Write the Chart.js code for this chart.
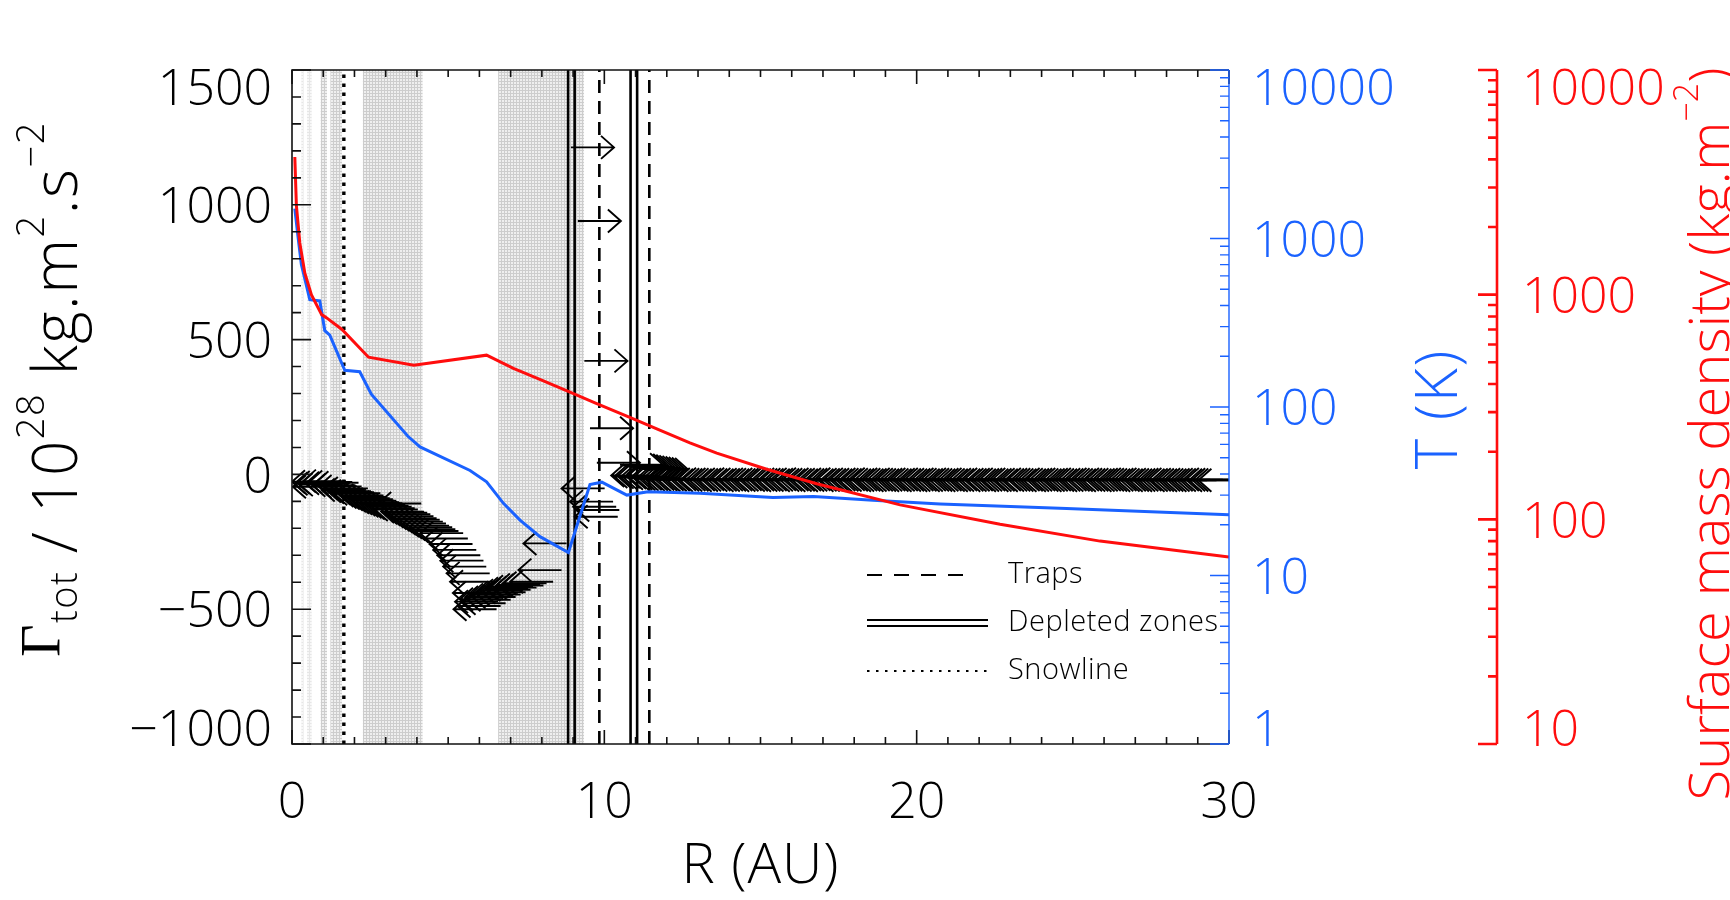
<!DOCTYPE html>
<html>
<head>
<meta charset="utf-8">
<script src="https://cdn.jsdelivr.net/npm/chart.js@4.4.1/dist/chart.umd.min.js"></script>
<style>
  html, body { margin: 0; padding: 0; background: #ffffff; }
  #wrap { width: 1730px; height: 900px; position: relative; }
</style>
</head>
<body>
<div id="wrap"><canvas id="disc" width="1730" height="900"></canvas></div>
<script>
// ---- Disc profiles -------------------------------------------------------
// Surface mass density (kg m^-2) against radius (AU)
const sigmaR   = [0.09, 0.14, 0.25, 0.41, 0.62, 0.95, 1.1, 1.6, 2.45, 3.9, 6.23, 7.09, 8.05, 8.9, 9.7, 10.93, 11.68, 12.74, 13.6, 15.2, 16.8, 19.47, 22.67, 25.87, 30.0];
const sigmaVal = [4100, 2500, 1700, 1250, 1000, 815, 790, 700, 527, 485, 538, 470, 413, 368, 330, 280, 253, 219, 197, 167, 144, 116, 95, 80, 68];

// Mid-plane temperature (K) against radius (AU)
const tempR   = [0.09, 0.19, 0.3, 0.57, 0.89, 1.05, 1.21, 1.69, 2.17, 2.54, 3.71, 4.1, 5.7, 6.23, 6.77, 7.3, 7.94, 8.85, 9.54, 9.92, 10.72, 11.4, 13.06, 15.4, 16.7, 18.6, 20.75, 24.8, 30.0];
const tempVal = [1503, 1035, 700, 433, 426, 284, 267, 165, 162, 119, 67, 58, 42, 36, 26.8, 21.3, 17, 13.7, 34.7, 35.8, 30, 31.4, 30.8, 29, 29.4, 28, 26.6, 25, 22.9];

// ---- Disc structure (AU) --------------------------------------------------
const shadedZones   = [[0.30, 0.37], [0.48, 0.63], [0.92, 1.12], [1.23, 1.60], [2.27, 4.18], [6.60, 9.35]];
const trapR         = [9.84, 11.44];
const depletedZones = [[8.84, 9.05], [10.84, 11.05]];
const snowlineR     = [1.66];

// ---- Total torque on planets: position (AU) and torque (1e28 kg m^2 s^-2) ----
const innerArrowR = [1.38, 1.41, 1.46, 1.53, 1.63, 1.73, 1.83, 1.93, 2.03, 2.13, 2.23, 2.33, 2.43, 2.53, 2.63, 2.73, 2.83, 2.93, 3.03, 3.13,
  3.23, 3.33, 3.43, 3.53, 3.63, 3.73, 3.83, 3.93, 4.03, 4.14, 4.23, 4.33, 4.43, 4.53, 4.63, 4.73, 4.83, 4.93, 5.03, 5.13,
  5.23, 5.33, 5.48, 5.63, 5.78, 5.90, 6.03, 6.13, 6.22, 6.33, 6.44, 6.53, 6.55, 6.60, 6.68, 6.76, 6.84, 6.92, 7.00, 7.08,
  7.16, 7.24, 7.32, 7.40, 7.48, 7.56, 7.64, 7.72, 7.83, 7.94, 8.05, 8.15, 8.36, 8.63, 8.79, 10.01, 10.28, 10.38, 10.48, 10.43];
const innerArrowG = [-27, -46, -35, -30, -38, -25, -33, -28, -40, -31, -45, -58, -52, -62, -66, -72, -70, -78, -84, -88,
  -92, -98, -103, -107, -112, -116, -120, -125, -130, -108, -138, -142, -148, -155, -162, -168, -175, -182, -190, -196,
  -203, -210, -218, -238, -258, -280, -300, -320, -342, -367, -398, -440, -500, -472, -488, -463, -478, -456, -465, -447,
  -455, -439, -446, -431, -437, -424, -428, -417, -420, -410, -412, -404, -398, -355, -256, -52, -101, -120, -132, -157];

const outwardArrowR = [8.93, 9.15, 9.36, 9.54, 9.76, 10.5, 10.6, 10.7, 10.8, 10.9, 11.0, 11.1, 11.2, 11.3];
const outwardArrowG = [1213, 940, 421, 171, 43, 36, 33, 30, 28, 26, 24, 22, 20, 18];

const outerArrowR = [11.6, 11.7, 11.8, 11.9, 12.0, 12.1, 12.2, 12.3, 12.4, 12.5, 12.6, 12.7, 12.8, 12.9, 13.0, 13.1, 13.2, 13.3, 13.4, 13.5,
  13.6, 13.7, 13.8, 13.9, 14.0, 14.1, 14.2, 14.3, 14.4, 14.5, 14.6, 14.7, 14.8, 14.9, 15.0, 15.1, 15.2, 15.3, 15.4, 15.5,
  15.6, 15.7, 15.8, 15.9, 16.0, 16.1, 16.2, 16.3, 16.4, 16.5, 16.6, 16.7, 16.8, 16.9, 17.0, 17.1, 17.2, 17.3, 17.4, 17.5,
  17.6, 17.7, 17.8, 17.9, 18.0, 18.1, 18.2, 18.3, 18.4, 18.5, 18.6, 18.7, 18.8, 18.9, 19.0, 19.1, 19.2, 19.3, 19.4, 19.5,
  19.6, 19.7, 19.8, 19.9, 20.0, 20.1, 20.2, 20.3, 20.4, 20.5, 20.6, 20.7, 20.8, 20.9, 21.0, 21.1, 21.2, 21.3, 21.4, 21.5,
  21.6, 21.7, 21.8, 21.9, 22.0, 22.1, 22.2, 22.3, 22.4, 22.5, 22.6, 22.7, 22.8, 22.9, 23.0, 23.1, 23.2, 23.3, 23.4, 23.5,
  23.6, 23.7, 23.8, 23.9, 24.0, 24.1, 24.2, 24.3, 24.4, 24.5, 24.6, 24.7, 24.8, 24.9, 25.0, 25.1, 25.2, 25.3, 25.4, 25.5,
  25.6, 25.7, 25.8, 25.9, 26.0, 26.1, 26.2, 26.3, 26.4, 26.5, 26.6, 26.7, 26.8, 26.9, 27.0, 27.1, 27.2, 27.3, 27.4, 27.5,
  27.6, 27.7, 27.8, 27.9, 28.0, 28.1, 28.2, 28.3, 28.4, 28.5, 28.6, 28.7, 28.8, 28.9, 29.0, 29.1, 29.2, 29.3, 29.4, 29.5,
  29.6, 29.7, 29.8, 29.9, 30.0, 30.1, 30.2, 30.3, 30.4];
const outerArrowG = [-4, -8, -6, -10, -12, -9, -14, -12, -16, -15,
  -17, -18, -16, -19, -18, -20, -17, -19, -21, -18,
  -20, -19, -22, -18, -20, -21, -19, -20, -22, -19,
  -21, -20, -18, -21, -19, -22, -20, -21, -19, -20,
  -22, -19, -21, -20, -18, -21, -20, -22, -19, -21,
  -20, -21, -19, -22, -20, -18, -21, -20, -22, -19,
  -21, -20, -22, -19, -21, -20, -18, -22, -20, -21,
  -19, -21, -20, -22, -19, -20, -21, -18, -20, -22,
  -21, -19, -20, -22, -21, -19, -20, -21, -22, -20,
  -19, -21, -22, -20, -19, -21, -20, -22, -21, -19,
  -20, -22, -21, -19, -20, -21, -22, -20, -19, -21,
  -22, -20, -21, -19, -22, -20, -21, -20, -19, -22,
  -21, -20, -19, -22, -21, -20, -22, -19, -21, -20,
  -20, -21, -22, -19, -20, -22, -21, -20, -19, -21,
  -22, -21, -20, -19, -21, -22, -20, -21, -19, -20,
  -21, -22, -19, -20, -21, -20, -22, -21, -20, -19,
  -20, -21, -22, -20, -19, -21, -22, -20, -21, -22,
  -21, -20, -19, -22, -21, -20, -21, -22, -20, -21,
  -22, -21, -20, -21, -19, -22, -20, -21, -22];

// ---- Axes -----------------------------------------------------------------
const xTickLabels     = [0, 10, 20, 30];
const gammaTickLabels = [-1000, -500, 0, 500, 1000, 1500];
const tempTickLabels  = [1, 10, 100, 1000, 10000];
const sigmaTickLabels = [10, 100, 1000, 10000];

const BLUE = '#1a62ff';
const RED = '#ff0d0d';
const SANS = "'Open Sans', 'DejaVu Sans', sans-serif";
const ARROW_LEN = 1.38;   // arrow length in AU
const HEAD_DX = 13, HEAD_DY = 11.5;

function linearTicks(min, max, step) {
  const out = [];
  for (let v = min; v <= max + 1e-9; v += step) out.push(Math.round(v * 1000) / 1000);
  return out;
}
function logTicks(min, max) {
  const out = [];
  for (let d = min; d < max; d *= 10) for (let m = 1; m < 10; m++) out.push(m * d);
  out.push(max);
  return out;
}
const fmt = v => (v < 0 ? '\u2212' + Math.abs(v) : String(v));
// keep the end labels inside the axis span
function endLabel(v, labels, min, max) {
  if (!labels.includes(v)) return '';
  if (v === max) return ['', fmt(v)];
  if (v === min) return [fmt(v), ''];
  return fmt(v);
}

// dotted grey texture for the shaded zones
function shadePattern(ctx) {
  const c = document.createElement('canvas');
  c.width = 3; c.height = 3;
  const p = c.getContext('2d');
  p.fillStyle = '#efefef'; p.fillRect(0, 0, 3, 3);
  p.fillStyle = '#cdcdcd'; p.fillRect(0, 0, 3, 1); p.fillRect(0, 0, 1, 3);
  return ctx.createPattern(c, 'repeat');
}

function drawArrowSet(ctx, xs, ys, rs, gs) {
  rs.forEach((r, i) => {
    const g = gs[i];
    const dir = g >= 0 ? 1 : -1;
    const x0 = xs.getPixelForValue(r);
    const x1 = xs.getPixelForValue(r + dir * ARROW_LEN);
    const py = ys.getPixelForValue(g);
    ctx.beginPath();
    ctx.moveTo(x0, py); ctx.lineTo(x1, py);
    ctx.moveTo(x1 - dir * HEAD_DX, py - HEAD_DY);
    ctx.lineTo(x1, py);
    ctx.lineTo(x1 - dir * HEAD_DX, py + HEAD_DY);
    ctx.stroke();
  });
}

function richText(ctx, parts, x, y, angle, color, spacing) {
  ctx.save();
  ctx.translate(x, y);
  ctx.rotate(angle);
  ctx.fillStyle = color;
  ctx.textBaseline = 'alphabetic';
  ctx.textAlign = 'left';
  ctx.letterSpacing = (spacing || 0) + 'px';
  let total = 0;
  parts.forEach(p => { ctx.font = p.font; p.w = ctx.measureText(p.text).width; total += p.w; });
  let cx = -total / 2;
  parts.forEach(p => { ctx.font = p.font; ctx.fillText(p.text, cx, p.shift || 0); cx += p.w; });
  ctx.restore();
}

const discPlugin = {
  id: 'discDecor',
  beforeDatasetsDraw(chart) {
    const { ctx, chartArea: a, scales: { x } } = chart;
    ctx.save();
    ctx.fillStyle = shadePattern(ctx);
    shadedZones.forEach(([r0, r1], i) => {
      const x0 = x.getPixelForValue(r0), x1 = x.getPixelForValue(r1);
      ctx.globalAlpha = i < 2 ? 0.5 : 1;
      ctx.fillRect(x0, a.top, x1 - x0, a.bottom - a.top);
    });
    ctx.restore();
  },
  beforeDatasetDraw(chart, args) {
    if (chart.data.datasets[args.index].label !== 'T (K)') return;
    const { ctx, chartArea: a, scales: { x, y } } = chart;
    ctx.save();
    ctx.beginPath(); ctx.rect(a.left, a.top, a.right - a.left, a.bottom - a.top); ctx.clip();
    ctx.strokeStyle = '#000';
    ctx.lineWidth = 1.9;
    drawArrowSet(ctx, x, y, innerArrowR, innerArrowG);
    drawArrowSet(ctx, x, y, outerArrowR, outerArrowG);
    drawArrowSet(ctx, x, y, outwardArrowR, outwardArrowG);
    ctx.restore();
  },
  afterDraw(chart) {
    const { ctx, chartArea: a, scales } = chart;
    const { x, y, yT, ySigma } = scales;
    const isMajor = t => Array.isArray(t.label) || (t.label !== '' && t.label != null);
    ctx.save();
    ctx.lineCap = 'butt';

    // frame
    ctx.strokeStyle = '#111'; ctx.lineWidth = 1.6;
    ctx.beginPath();
    ctx.moveTo(a.right, a.top); ctx.lineTo(a.left, a.top); ctx.lineTo(a.left, a.bottom); ctx.lineTo(a.right, a.bottom);
    ctx.stroke();
    // x ticks, bottom and top, pointing inwards
    ctx.beginPath();
    x.ticks.forEach(t => {
      const px = x.getPixelForValue(t.value), len = isMajor(t) ? 14 : 7;
      ctx.moveTo(px, a.bottom); ctx.lineTo(px, a.bottom - len);
      ctx.moveTo(px, a.top); ctx.lineTo(px, a.top + len);
    });
    // torque ticks
    y.ticks.forEach(t => {
      const py = y.getPixelForValue(t.value), len = isMajor(t) ? 19 : 9;
      ctx.moveTo(a.left, py); ctx.lineTo(a.left + len, py);
    });
    ctx.stroke();

    // temperature axis
    ctx.strokeStyle = BLUE; ctx.lineWidth = 1.4;
    ctx.beginPath();
    ctx.moveTo(a.right, a.top); ctx.lineTo(a.right, a.bottom);
    yT.ticks.forEach(t => {
      const py = yT.getPixelForValue(t.value), len = isMajor(t) ? 19 : 9;
      ctx.moveTo(a.right, py); ctx.lineTo(a.right - len, py);
    });
    ctx.stroke();

    // surface density axis
    const sx = ySigma.left;
    ctx.strokeStyle = RED; ctx.lineWidth = 2.6;
    ctx.beginPath();
    ctx.moveTo(sx, a.top); ctx.lineTo(sx, a.bottom);
    ySigma.ticks.forEach(t => {
      const py = ySigma.getPixelForValue(t.value), len = isMajor(t) ? 19 : 9;
      ctx.moveTo(sx, py); ctx.lineTo(sx - len, py);
    });
    ctx.stroke();

    // legend
    const lx0 = a.left + 575, lx1 = a.left + 696, tx = a.left + 716;
    const ly = [a.top + 505, a.top + 553, a.top + 601];
    ctx.strokeStyle = '#000';
    ctx.lineWidth = 2.2;
    ctx.setLineDash([15, 12]);
    ctx.beginPath(); ctx.moveTo(lx0, ly[0]); ctx.lineTo(lx0 + 106, ly[0]); ctx.stroke();
    ctx.setLineDash([]);
    ctx.lineWidth = 1.8;
    ctx.beginPath();
    ctx.moveTo(lx0, ly[1] - 3); ctx.lineTo(lx1, ly[1] - 3);
    ctx.moveTo(lx0, ly[1] + 3); ctx.lineTo(lx1, ly[1] + 3);
    ctx.stroke();
    ctx.lineWidth = 2.2;
    ctx.setLineDash([2.5, 6.5]);
    ctx.beginPath(); ctx.moveTo(lx0, ly[2]); ctx.lineTo(lx1, ly[2]); ctx.stroke();
    ctx.setLineDash([]);
    ctx.fillStyle = '#000';
    ctx.font = '300 29px ' + SANS;
    ctx.letterSpacing = '0.5px';
    ctx.textBaseline = 'middle';
    ctx.textAlign = 'left';
    ['Traps', 'Depleted zones', 'Snowline'].forEach((s, i) => ctx.fillText(s, tx, ly[i]));
    ctx.restore();

    // axis titles
    const main = '300 62px ' + SANS, sub = '300 38px ' + SANS;
    richText(ctx, [{ text: 'R (AU)', font: '300 56px ' + SANS }], (a.left + a.right) / 2, 883, 0, '#000', 1);
    richText(ctx, [
      { text: '\u0393', font: "56px 'Liberation Serif', serif", shift: -17 },
      { text: 'tot', font: sub, shift: 0 },
      { text: ' / 10', font: main },
      { text: '28', font: sub, shift: -33 },
      { text: ' kg.m', font: main },
      { text: '2', font: sub, shift: -33 },
      { text: '.s', font: main },
      { text: '\u22122', font: sub, shift: -33 }
    ], 77, 389, -Math.PI / 2, '#000', 1.5);
    richText(ctx, [{ text: 'T (K)', font: '300 58px ' + SANS }], 1457, 409, -Math.PI / 2, BLUE, 2);
    richText(ctx, [
      { text: 'Surface mass density (kg.m', font: '300 56px ' + SANS },
      { text: '\u22122', font: '300 34px ' + SANS, shift: -31 },
      { text: ')', font: '300 56px ' + SANS }
    ], 1729, 434, -Math.PI / 2, RED, 0);
  }
};

// vertical marker lines share the torque axis span
const vline = (r, style) => Object.assign({
  data: [{ x: r, y: -1000 }, { x: r, y: 1500 }],
  yAxisID: 'y', borderColor: '#000', pointRadius: 0, fill: false, order: 5
}, style);

const datasets = [
  { label: 'Surface mass density', data: sigmaR.map((r, i) => ({ x: r, y: sigmaVal[i] })), yAxisID: 'ySigma',
    borderColor: RED, borderWidth: 3, pointRadius: 0, tension: 0, order: 1 },
  { label: 'T (K)', data: tempR.map((r, i) => ({ x: r, y: tempVal[i] })), yAxisID: 'yT',
    borderColor: BLUE, borderWidth: 3, pointRadius: 0, tension: 0, order: 2 },
  ...trapR.map(r => vline(r, { borderWidth: 2.6, borderDash: [13, 8] })),
  ...depletedZones.flat().map(r => vline(r, { borderWidth: 2.6 })),
  ...snowlineR.map(r => vline(r, { borderWidth: 3.4, borderDash: [3.4, 5.6] }))
];

const tickFont = { family: SANS, size: 50, weight: 300, lineHeight: 0.65 };
const hidden = { display: false, drawTicks: false };

new Chart(document.getElementById('disc'), {
  type: 'line',
  data: { datasets },
  plugins: [discPlugin],
  options: {
    responsive: false,
    animation: false,
    events: [],
    devicePixelRatio: 1,
    layout: { padding: { top: 70, left: 0, right: 0, bottom: 0 } },
    plugins: { legend: { display: false }, tooltip: { enabled: false } },
    scales: {
      x: {
        type: 'linear', position: 'bottom', min: 0, max: 30,
        afterBuildTicks: s => { s.ticks = linearTicks(0, 30, 1).map(v => ({ value: v })); },
        afterFit: s => { s.height = 156; },
        ticks: { autoSkip: false, maxRotation: 0, padding: 43, font: tickFont, color: '#000',
                 callback: v => xTickLabels.includes(v) ? fmt(v) : '' },
        grid: hidden, border: { display: false }
      },
      y: {
        type: 'linear', position: 'left', min: -1000, max: 1500,
        afterBuildTicks: s => { s.ticks = linearTicks(-1000, 1500, 100).map(v => ({ value: v })); },
        afterFit: s => { s.width = 292; },
        ticks: { autoSkip: false, padding: 20, labelOffset: 4, font: tickFont, color: '#000',
                 callback: v => endLabel(v, gammaTickLabels, -1000, 1500) },
        grid: hidden, border: { display: false }
      },
      yT: {
        type: 'logarithmic', position: 'right', min: 1, max: 10000, weight: 0,
        afterBuildTicks: s => { s.ticks = logTicks(1, 10000).map(v => ({ value: v })); },
        afterFit: s => { s.width = 268; },
        ticks: { autoSkip: false, padding: 23, labelOffset: 4, font: tickFont, color: BLUE,
                 callback: v => endLabel(v, tempTickLabels, 1, 10000) },
        grid: hidden, border: { display: false }
      },
      ySigma: {
        type: 'logarithmic', position: 'right', min: 10, max: 10000, weight: 1,
        afterBuildTicks: s => { s.ticks = logTicks(10, 10000).map(v => ({ value: v })); },
        afterFit: s => { s.width = 233; },
        ticks: { autoSkip: false, padding: 25, labelOffset: 4, font: tickFont, color: RED,
                 callback: v => endLabel(v, sigmaTickLabels, 10, 10000) },
        grid: hidden, border: { display: false }
      }
    }
  }
});
</script>
</body>
</html>
